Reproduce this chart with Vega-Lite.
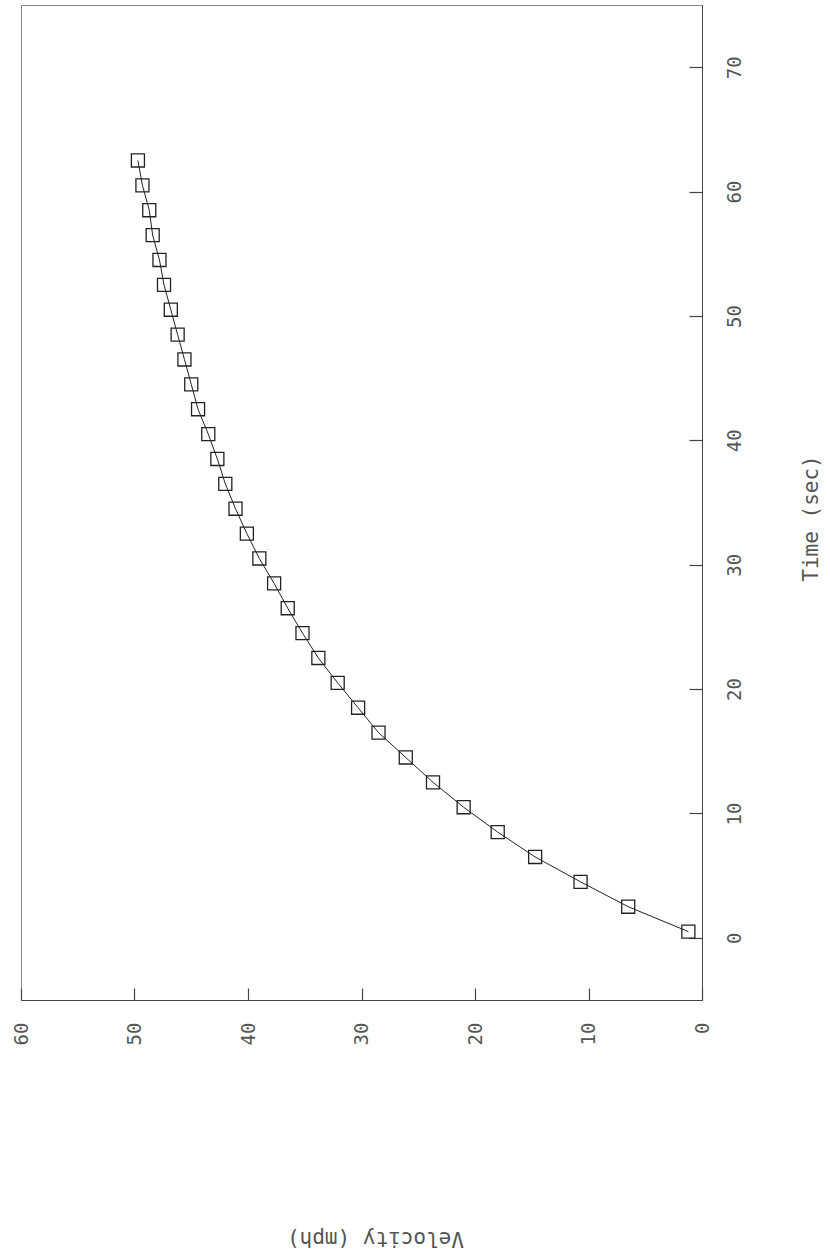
{
  "$schema": "https://vega.github.io/schema/vega-lite/v6.json",
  "width": 681,
  "height": 995,
  "autosize": "none",
  "padding": {"left": 21, "top": 5, "right": 128, "bottom": 253},
  "background": "white",
  "config": {
    "view": {"stroke": "#8a8a8a", "strokeWidth": 1},
    "axis": {
      "grid": false,
      "labelFont": "DejaVu Sans Mono",
      "labelFontSize": 19,
      "labelColor": "#555555",
      "titleFont": "DejaVu Sans Mono",
      "titleFontSize": 21,
      "titleFontWeight": "normal",
      "titleColor": "#555555",
      "domainColor": "#444444",
      "tickColor": "#444444",
      "tickWidth": 1.2,
      "labelOverlap": false,
      "labelFlush": false
    }
  },
  "data": {
    "values": [
      {"t": 0.5, "v": 1.2},
      {"t": 2.5, "v": 6.5},
      {"t": 4.5, "v": 10.7},
      {"t": 6.5, "v": 14.7},
      {"t": 8.5, "v": 18.0},
      {"t": 10.5, "v": 21.0},
      {"t": 12.5, "v": 23.7},
      {"t": 14.5, "v": 26.1},
      {"t": 16.5, "v": 28.5},
      {"t": 18.5, "v": 30.3},
      {"t": 20.5, "v": 32.1},
      {"t": 22.5, "v": 33.8},
      {"t": 24.5, "v": 35.2},
      {"t": 26.5, "v": 36.5},
      {"t": 28.5, "v": 37.7},
      {"t": 30.5, "v": 39.0},
      {"t": 32.5, "v": 40.1},
      {"t": 34.5, "v": 41.1},
      {"t": 36.5, "v": 42.0},
      {"t": 38.5, "v": 42.7},
      {"t": 40.5, "v": 43.5},
      {"t": 42.5, "v": 44.4},
      {"t": 44.5, "v": 45.0},
      {"t": 46.5, "v": 45.6},
      {"t": 48.5, "v": 46.2},
      {"t": 50.5, "v": 46.8},
      {"t": 52.5, "v": 47.4},
      {"t": 54.5, "v": 47.8},
      {"t": 56.5, "v": 48.4},
      {"t": 58.5, "v": 48.7},
      {"t": 60.5, "v": 49.3},
      {"t": 62.5, "v": 49.7}
    ]
  },
  "encoding": {
    "x": {
      "field": "v",
      "type": "quantitative",
      "scale": {"domain": [0, 60], "reverse": true, "nice": false, "zero": false},
      "axis": {
        "orient": "bottom",
        "title": "Velocity (mph)",
        "values": [0, 10, 20, 30, 40, 50, 60],
        "labelAngle": 270,
        "labelAlign": "right",
        "labelBaseline": "middle",
        "tickSize": -12,
        "labelPadding": 34,
        "titleAngle": 180,
        "titleAlign": "center",
        "titleBaseline": "middle",
        "titleX": 354,
        "titleY": 237
      }
    },
    "y": {
      "field": "t",
      "type": "quantitative",
      "scale": {"domain": [-5, 75], "nice": false, "zero": false},
      "axis": {
        "orient": "right",
        "title": "Time (sec)",
        "values": [0, 10, 20, 30, 40, 50, 60, 70],
        "labelAngle": 270,
        "labelAlign": "center",
        "labelBaseline": "top",
        "tickSize": -13,
        "labelPadding": 36,
        "titleAngle": 270,
        "titleAlign": "center",
        "titleBaseline": "middle",
        "titleX": 109,
        "titleY": 513
      }
    },
    "order": {"field": "t", "type": "quantitative"}
  },
  "layer": [
    {"mark": {"type": "line", "color": "#222222", "strokeWidth": 1}},
    {"mark": {"type": "point", "shape": "square", "size": 170, "filled": false, "color": "#222222", "strokeWidth": 1.3, "opacity": 1}}
  ]
}
